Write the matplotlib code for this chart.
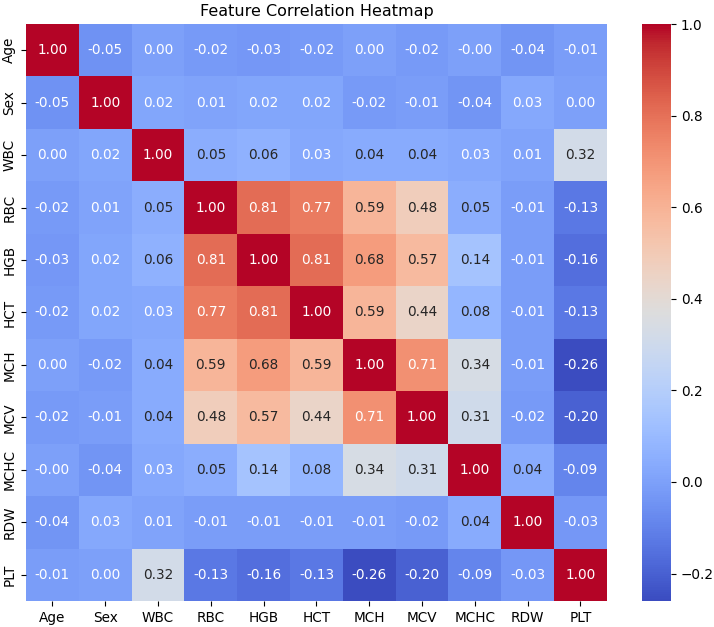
import matplotlib
matplotlib.use("Agg")
import matplotlib.pyplot as plt
import seaborn as sns
import numpy as np
import pandas as pd

features = ["Age", "Sex", "WBC", "RBC", "HGB", "HCT", "MCH", "MCV", "MCHC", "RDW", "PLT"]

row_age  = [1.00, -0.05, 0.00, -0.02, -0.03, -0.02, 0.00, -0.02, -0.001, -0.04, -0.01]
row_sex  = [-0.05, 1.00, 0.02, 0.01, 0.02, 0.02, -0.02, -0.01, -0.04, 0.03, 0.00]
row_wbc  = [0.00, 0.02, 1.00, 0.05, 0.06, 0.03, 0.04, 0.04, 0.03, 0.01, 0.32]
row_rbc  = [-0.02, 0.01, 0.05, 1.00, 0.81, 0.77, 0.59, 0.48, 0.05, -0.01, -0.13]
row_hgb  = [-0.03, 0.02, 0.06, 0.81, 1.00, 0.81, 0.68, 0.57, 0.14, -0.01, -0.16]
row_hct  = [-0.02, 0.02, 0.03, 0.77, 0.81, 1.00, 0.59, 0.44, 0.08, -0.01, -0.13]
row_mch  = [0.00, -0.02, 0.04, 0.59, 0.68, 0.59, 1.00, 0.71, 0.34, -0.01, -0.26]
row_mcv  = [-0.02, -0.01, 0.04, 0.48, 0.57, 0.44, 0.71, 1.00, 0.31, -0.02, -0.20]
row_mchc = [-0.001, -0.04, 0.03, 0.05, 0.14, 0.08, 0.34, 0.31, 1.00, 0.04, -0.09]
row_rdw  = [-0.04, 0.03, 0.01, -0.01, -0.01, -0.01, -0.01, -0.02, 0.04, 1.00, -0.03]
row_plt  = [-0.01, 0.00, 0.32, -0.13, -0.16, -0.13, -0.26, -0.20, -0.09, -0.03, 1.00]

corr = pd.DataFrame(
    [row_age, row_sex, row_wbc, row_rbc, row_hgb, row_hct, row_mch,
     row_mcv, row_mchc, row_rdw, row_plt],
    index=features, columns=features)

plt.rcParams['font.family'] = ['DejaVu Sans']
fig = plt.figure(figsize=(7.14, 6.27), dpi=100)
ax = fig.add_axes([0.0364, 0.0415, 0.8136, 0.9202])
cax = fig.add_axes([0.899, 0.0415, 0.041, 0.9202])

sns.heatmap(corr, annot=True, fmt=".2f", cmap="coolwarm", ax=ax, cbar_ax=cax,
            annot_kws={"fontsize": 9.8})
ax.set_title("Feature Correlation Heatmap", fontsize=11.5)
ax.tick_params(labelsize=9.8)
cax.tick_params(labelsize=9.8)

fig.savefig("out.png", dpi=100)
